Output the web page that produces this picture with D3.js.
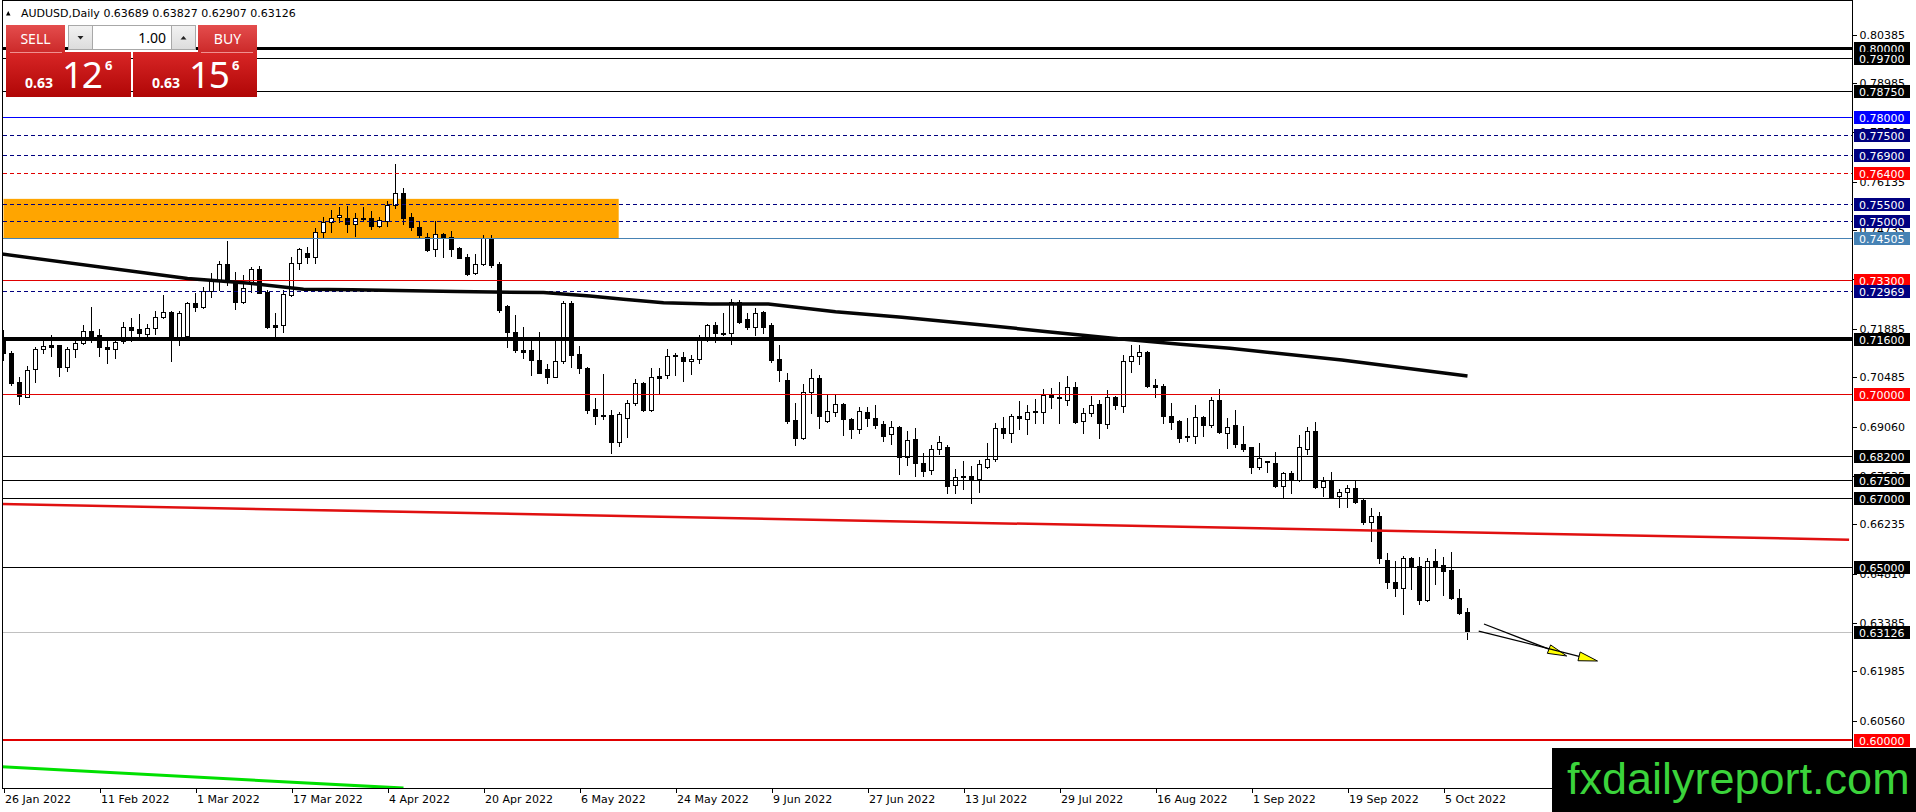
<!DOCTYPE html>
<html><head><meta charset="utf-8">
<script src="https://cdn.jsdelivr.net/npm/d3@7"></script>
<style>body{margin:0;background:#fff;overflow:hidden}svg{display:block}</style>
</head><body>
<svg id="c" width="1916" height="812"></svg>
<script>
// ---------------- DATA ----------------
const opens = [0.7166,0.7118,0.7034,0.6992,0.7071,0.7129,0.7141,0.7141,0.7077,0.7129,0.7146,0.7182,0.7170,0.7135,0.7129,0.7153,0.7195,0.7187,0.7173,0.7190,0.7222,0.7237,0.7166,0.7168,0.7264,0.7252,0.7299,0.7329,0.7376,0.7325,
0.7267,0.7320,0.7361,0.7296,0.7198,0.7198,0.7286,0.7378,0.7407,0.7397,0.7467,0.7496,0.7511,0.7508,0.7491,0.7510,0.7510,0.7486,0.7501,0.7546,0.7582,0.7511,0.7482,0.7453,0.7418,0.7462,0.7453,0.7423,0.7395,0.7349,
0.7375,0.7450,0.7376,0.7254,0.7180,0.7127,0.7127,0.7098,0.7072,0.7050,0.7096,0.7264,0.7115,0.7074,0.6957,0.6939,0.6939,0.6860,0.6930,0.6973,0.7031,0.6954,0.7052,0.7055,0.7113,0.7106,0.7094,0.7100,0.7156,0.7199,
0.7176,0.7177,0.7267,0.7216,0.7195,0.7237,0.7199,0.7100,0.7040,0.6925,0.6872,0.7005,0.7045,0.6923,0.6949,0.6971,0.6928,0.6898,0.6947,0.6931,0.6912,0.6883,0.6905,0.6817,0.6870,0.6802,0.6780,0.6840,0.6848,0.6737,
0.6759,0.6762,0.6753,0.6790,0.6811,0.6901,0.6886,0.6936,0.6927,0.6951,0.6947,0.6997,0.6991,0.6983,0.7021,0.6923,0.6946,0.6970,0.6912,0.6990,0.6965,0.7095,0.7110,0.7120,0.7026,0.7023,0.6936,0.6922,0.6879,0.6879,
0.6933,0.6909,0.6983,0.6888,0.6910,0.6855,0.6846,0.6788,0.6805,0.6800,0.6734,0.6771,0.6751,0.6840,0.6893,0.6730,0.6749,0.6705,0.6718,0.6727,0.6694,0.6631,0.6647,0.6520,0.6456,0.6438,0.6525,0.6503,0.6405,0.6518,
0.6506,0.6491,0.6410,0.63689];
const highs = [0.7185,0.7124,0.7050,0.7081,0.7137,0.7156,0.7171,0.7143,0.7135,0.7156,0.7199,0.7251,0.7187,0.7161,0.7166,0.7209,0.7219,0.7231,0.7202,0.7240,0.7286,0.7239,0.7240,0.7267,0.7291,0.7310,0.7349,0.7385,0.7441,0.7352,
0.7345,0.7368,0.7370,0.7301,0.7233,0.7301,0.7395,0.7423,0.7426,0.7479,0.7511,0.7532,0.7540,0.7543,0.7522,0.7540,0.7529,0.7513,0.7559,0.7665,0.7594,0.7522,0.7500,0.7466,0.7500,0.7464,0.7471,0.7426,0.7405,0.7404,
0.7460,0.7460,0.7382,0.7257,0.7228,0.7195,0.7156,0.7180,0.7087,0.7152,0.7269,0.7269,0.7139,0.7079,0.6988,0.7058,0.6954,0.6949,0.6983,0.7043,0.7036,0.7074,0.7074,0.7129,0.7118,0.7122,0.7113,0.7171,0.7202,0.7207,
0.7233,0.7274,0.7272,0.7233,0.7248,0.7241,0.7204,0.7142,0.7060,0.6973,0.7029,0.7072,0.7055,0.7000,0.7000,0.6975,0.6930,0.6963,0.6963,0.6968,0.6923,0.6922,0.6907,0.6893,0.6901,0.6829,0.6853,0.6879,0.6853,0.6783,
0.6806,0.6792,0.6809,0.6858,0.6915,0.6933,0.6942,0.6980,0.6968,0.6985,0.7014,0.7016,0.7034,0.7052,0.7034,0.6959,0.6994,0.6983,0.7012,0.6994,0.7113,0.7142,0.7142,0.7124,0.7042,0.7028,0.6973,0.6925,0.6932,0.6968,
0.6936,0.6992,0.7014,0.6930,0.6954,0.6908,0.6848,0.6857,0.6807,0.6833,0.6775,0.6777,0.6882,0.6906,0.6918,0.6761,0.6774,0.6725,0.6737,0.6749,0.6696,0.6671,0.6660,0.6540,0.6516,0.6533,0.6530,0.6530,0.6525,0.6551,
0.6530,0.6543,0.6436,0.63827];
const lows = [0.7098,0.7026,0.6970,0.6990,0.7036,0.7119,0.7110,0.7052,0.7067,0.7108,0.7145,0.7151,0.7110,0.7089,0.7105,0.7147,0.7153,0.7158,0.7161,0.7173,0.7219,0.7096,0.7142,0.7164,0.7241,0.7248,0.7280,0.7301,0.7315,0.7246,
0.7262,0.7296,0.7291,0.7190,0.7166,0.7180,0.7283,0.7361,0.7378,0.7378,0.7452,0.7469,0.7498,0.7469,0.7457,0.7501,0.7476,0.7482,0.7486,0.7537,0.7491,0.7474,0.7455,0.7414,0.7399,0.7395,0.7399,0.7392,0.7344,0.7346,
0.7373,0.7368,0.7238,0.7137,0.7122,0.7103,0.7055,0.7060,0.7033,0.7048,0.7090,0.7079,0.7062,0.6946,0.6913,0.6928,0.6829,0.6850,0.6877,0.6968,0.6952,0.6951,0.7004,0.7045,0.7055,0.7038,0.7058,0.7090,0.7154,0.7151,
0.7171,0.7145,0.7204,0.7188,0.7171,0.7177,0.7093,0.7038,0.6915,0.6853,0.6869,0.6946,0.6901,0.6920,0.6936,0.6881,0.6872,0.6888,0.6908,0.6901,0.6865,0.6856,0.6768,0.6795,0.6764,0.6764,0.6768,0.6827,0.6715,0.6713,
0.6725,0.6684,0.6718,0.6785,0.6807,0.6874,0.6862,0.6898,0.6883,0.6915,0.6915,0.6959,0.6915,0.6968,0.6915,0.6888,0.6936,0.6872,0.6901,0.6956,0.6949,0.7064,0.7087,0.7019,0.6992,0.6915,0.6899,0.6862,0.6865,0.6859,
0.6879,0.6904,0.6888,0.6843,0.6848,0.6836,0.6771,0.6782,0.6775,0.6730,0.6701,0.6715,0.6749,0.6828,0.6728,0.6705,0.6698,0.6672,0.6674,0.6686,0.6624,0.6576,0.6513,0.6440,0.6417,0.6364,0.6436,0.6394,0.6403,0.6451,
0.6419,0.6407,0.6364,0.62907];
const closes = [0.7118,0.7031,0.6994,0.7069,0.7130,0.7139,0.7137,0.7077,0.7129,0.7148,0.7181,0.7156,0.7137,0.7129,0.7151,0.7195,0.7185,0.7177,0.7190,0.7222,0.7237,0.7164,0.7233,0.7262,0.7252,0.7299,0.7327,0.7376,0.7332,0.7267,
0.7305,0.7361,0.7293,0.7193,0.7193,0.7289,0.7378,0.7419,0.7397,0.7467,0.7498,0.7510,0.7517,0.7491,0.7510,0.7507,0.7486,0.7503,0.7546,0.7582,0.7510,0.7482,0.7460,0.7416,0.7462,0.7450,0.7419,0.7394,0.7347,0.7375,
0.7452,0.7373,0.7243,0.7180,0.7127,0.7122,0.7098,0.7062,0.7050,0.7096,0.7262,0.7113,0.7076,0.6954,0.6937,0.6936,0.6860,0.6942,0.6973,0.7031,0.6954,0.7050,0.7045,0.7110,0.7110,0.7094,0.7100,0.7158,0.7199,0.7175,
0.7173,0.7267,0.7209,0.7195,0.7235,0.7195,0.7098,0.7069,0.6923,0.6872,0.7005,0.7045,0.6937,0.6951,0.6970,0.6927,0.6898,0.6951,0.6930,0.6910,0.6879,0.6905,0.6817,0.6867,0.6802,0.6778,0.6840,0.6860,0.6735,0.6761,
0.6762,0.6751,0.6798,0.6811,0.6901,0.6888,0.6936,0.6930,0.6949,0.6947,0.6997,0.6990,0.6988,0.7021,0.6920,0.6946,0.6969,0.6915,0.6990,0.6968,0.7095,0.7110,0.7122,0.7024,0.7021,0.6936,0.6918,0.6872,0.6875,0.6933,
0.6909,0.6983,0.6891,0.6906,0.6855,0.6841,0.6788,0.6814,0.6803,0.6734,0.6771,0.6751,0.6846,0.6893,0.6730,0.6749,0.6701,0.6716,0.6727,0.6689,0.6631,0.6647,0.6527,0.6458,0.6438,0.6525,0.6499,0.6405,0.6518,0.6504,
0.6489,0.6410,0.6368,0.63126];

const dateLabels = ["26 Jan 2022","11 Feb 2022","1 Mar 2022","17 Mar 2022","4 Apr 2022","20 Apr 2022","6 May 2022","24 May 2022","9 Jun 2022","27 Jun 2022","13 Jul 2022","29 Jul 2022","16 Aug 2022","1 Sep 2022","19 Sep 2022","5 Oct 2022"];
const dateLabelStep = 12;

const priceTicks = [0.80385,0.78985,0.77560,0.76135,0.74735,0.73310,0.71885,0.70485,0.69060,0.67635,0.66235,0.64810,0.63385,0.61985,0.60560];

const levelPrices = [0.8000,0.7970,0.7875,0.7800,0.7750,0.7690,0.7640,0.7550,0.7500,0.74505,0.7330,0.72969,0.7160,0.7000,0.6820,0.6750,0.6700,0.6500,0.63126,0.6000];
const levelTypes  = ["blackBold","black","black","blue","navyDash","navyDash","redDash","navyDash","navyDash","steel","red","navyDash","blackHeavy","red","black","black","black","black","bid","redBold"];

// moving average: bar index, value
const maIndex = [-0.4,23,30.8,37.5,43.6,56.7,67.5,73.3,77.5,82.5,88.3,95.6,104,112.3,122.7,130.5,138.7,147.1,153.3,167.3,183];
const maValue = [0.7405,0.7334,0.7320,0.7303,0.7301,0.7296,0.7293,0.7283,0.7274,0.7264,0.7260,0.7260,0.7238,0.7222,0.7199,0.7180,0.7161,0.7144,0.7132,0.7098,0.7052];

// trend lines: [startIndex, startPrice, endIndex, endPrice]
const redTrend = [-0.4,0.6682,230.7,0.6579];
const greenTrend = [-0.4,0.5923,50,0.5861];
// supply zone
const zoneBars = [0,76.9];
const zonePrices = [0.7564,0.74505];
// arrows: [i0,p0,i1,p1]
const arrows = [[185.06,0.63353,195.4,0.62428],[184.4,0.63150,199.25,0.62283]];

const symbolTitle = "AUDUSD,Daily";
const lastOHLC = [0.63689,0.63827,0.62907,0.63126];
const bidQuote = ["0.63","12","6"], askQuote = ["0.63","15","6"], lotSize = "1.00";

// ---------------- DRAW ----------------
const W=1916,H=812, plotL=2.5, plotR=1852.5, plotT=0.5, plotB=788.5;
const svg = d3.select("#c");
const x = d3.scaleLinear().domain([0,183]).range([3.5,3.5+8*183]);
const y = d3.scaleLinear().domain([0.6,0.8]).range([740,48]);
const F = "DejaVu Sans";

const defs = svg.append("defs");
defs.append("clipPath").attr("id","plot").append("rect").attr("x",plotL).attr("y",plotT).attr("width",plotR-plotL).attr("height",plotB-plotT);
function grad(id,c1,c2){const g=defs.append("linearGradient").attr("id",id).attr("x1",0).attr("y1",0).attr("x2",0).attr("y2",1);
 g.append("stop").attr("offset","0%").attr("stop-color",c1);g.append("stop").attr("offset","100%").attr("stop-color",c2);}
grad("btn","#e44d4d","#cc2a2a");
grad("big","#d82626","#b00606");
grad("gry","#f2f2f2","#dcdcdc");

svg.append("rect").attr("width",W).attr("height",H).attr("fill","#fff");
const plot = svg.append("g").attr("clip-path","url(#plot)");

// zone
plot.append("rect").attr("x",x(zoneBars[0])).attr("width",x(zoneBars[1])-x(zoneBars[0]))
 .attr("y",y(zonePrices[0])).attr("height",y(zonePrices[1])-y(zonePrices[0])).attr("fill","#ffa500");

// candles
const bars = d3.range(opens.length).map(i=>({i,o:opens[i],h:highs[i],l:lows[i],c:closes[i]}));
const cg = plot.append("g").attr("shape-rendering","crispEdges");
cg.selectAll("line.w").data(bars).join("line").attr("class","w")
 .attr("x1",d=>x(d.i)).attr("x2",d=>x(d.i))
 .attr("y1",d=>Math.round(y(d.h))).attr("y2",d=>Math.round(y(d.l))+1)
 .attr("stroke","#000").attr("stroke-width",1);
bars.forEach(d=>{
  const yt=Math.round(y(Math.max(d.o,d.c)))+0.5, yb=Math.round(y(Math.min(d.o,d.c)))+0.5;
  const bull=d.c>d.o;
  if(yb-yt<1){
    cg.append("line").attr("x1",x(d.i)-2.5).attr("x2",x(d.i)+2.5).attr("y1",yt).attr("y2",yt).attr("stroke","#000");
  } else {
    cg.append("rect").attr("x",x(d.i)-2).attr("width",4).attr("y",yt).attr("height",yb-yt)
      .attr("fill",bull?"#fff":"#000").attr("stroke","#000").attr("stroke-width",1);
  }
});

// horizontal levels
const lvStyle = {
 blackBold:{s:"#000",w:3,box:"#000"}, black:{s:"#000",w:1,box:"#000"}, blackHeavy:{s:"#000",w:4,box:"#000"},
 blue:{s:"#0000ff",w:1,box:"#0000ff"}, navyDash:{s:"#000080",w:1,d:"4,3",box:"#000080"},
 redDash:{s:"#e00000",w:1,d:"4,3",box:"#ff0000"}, steel:{s:"#4682b4",w:1,box:"#4682b4"},
 red:{s:"#e00000",w:1,box:"#ff0000"}, redBold:{s:"#e00000",w:2,box:"#ff0000"}, bid:{s:"#c0c0c0",w:1,box:"#000"}
};
const levels = levelPrices.map((p,k)=>({p,st:lvStyle[levelTypes[k]]}));
plot.append("g").selectAll("line").data(levels).join("line")
 .attr("x1",plotL).attr("x2",plotR)
 .attr("y1",d=>Math.round(y(d.p))+(d.st.w%2?0.5:0)).attr("y2",d=>Math.round(y(d.p))+(d.st.w%2?0.5:0))
 .attr("stroke",d=>d.st.s).attr("stroke-width",d=>d.st.w).attr("stroke-dasharray",d=>d.st.d||null)
 .attr("shape-rendering","crispEdges");

// MA
const ma = maIndex.map((v,k)=>[v,maValue[k]]);
plot.append("path").datum(ma).attr("d",d3.line().x(d=>x(d[0])).y(d=>y(d[1])))
 .attr("fill","none").attr("stroke","#050505").attr("stroke-width",3.5);

// trend lines
function trend(t,color,w){plot.append("line").attr("x1",x(t[0])).attr("y1",y(t[1])).attr("x2",x(t[2])).attr("y2",y(t[3]))
 .attr("stroke",color).attr("stroke-width",w);}
trend(redTrend,"#e01010",2.5);
trend(greenTrend,"#00e000",3);

// arrows
arrows.forEach(a=>{
  const x0=x(a[0]),y0=y(a[1]),x1=x(a[2]),y1=y(a[3]);
  const ang=Math.atan2(y1-y0,x1-x0), L=19, hw=4.5;
  const bx=x1-L*Math.cos(ang), by=y1-L*Math.sin(ang);
  plot.append("line").attr("x1",x0).attr("y1",y0).attr("x2",bx).attr("y2",by).attr("stroke","#000").attr("stroke-width",1.3);
  const px=-Math.sin(ang)*hw, py=Math.cos(ang)*hw;
  plot.append("path").attr("d",`M${x1},${y1}L${bx+px},${by+py}L${bx-px},${by-py}Z`)
   .attr("fill","#ffff00").attr("stroke","#000").attr("stroke-width",1);
});

// frame
svg.append("rect").attr("x",plotL).attr("y",plotT).attr("width",plotR-plotL).attr("height",plotB-plotT)
 .attr("fill","none").attr("stroke","#000").attr("stroke-width",1).attr("shape-rendering","crispEdges");

// price axis
const gy = svg.append("g").attr("transform",`translate(${plotR},0)`)
 .call(d3.axisRight(y).tickValues(priceTicks).tickSize(4).tickPadding(3).tickFormat(d3.format(".5f")));
gy.select(".domain").remove();
gy.selectAll("line").attr("stroke","#000").attr("shape-rendering","crispEdges");
gy.selectAll("text").attr("font-family",F).attr("font-size",11).attr("fill","#000");

// level labels
const lb = svg.append("g");
levels.forEach(d=>{
  const yy=Math.round(y(d.p));
  lb.append("rect").attr("x",1854).attr("y",yy-6).attr("width",56).attr("height",13).attr("fill",d.st.box);
  lb.append("text").attr("x",1859).attr("y",yy+4.5).attr("font-family",F).attr("font-size",11).attr("fill","#fff").text(d3.format(".5f")(d.p));
});

// time axis
const tickIdx = dateLabels.map((_,k)=>k*dateLabelStep);
const gx = svg.append("g").attr("transform",`translate(0,${plotB})`)
 .call(d3.axisBottom(x).tickValues(tickIdx).tickSize(4).tickPadding(3).tickFormat((d,k)=>dateLabels[k]));
gx.select(".domain").remove();
gx.selectAll("line").attr("stroke","#000").attr("shape-rendering","crispEdges");
gx.selectAll("text").attr("font-family",F).attr("font-size",11).attr("fill","#000").attr("text-anchor","start").attr("x",1);

// header
svg.append("path").attr("d","M6,15.5L10.5,15.5L8.25,11Z").attr("fill","#000");
svg.append("text").attr("x",21).attr("y",17).attr("font-family",F).attr("font-size",11).attr("fill","#000")
 .text(symbolTitle+"  "+lastOHLC.map(d3.format(".5f")).join(" "));

// one-click trading panel
const P = svg.append("g");
const NF="Noto Sans";
P.append("rect").attr("x",6).attr("y",25).attr("width",59).attr("height",27).attr("fill","url(#btn)");
P.append("rect").attr("x",198).attr("y",25).attr("width",59).attr("height",27).attr("fill","url(#btn)");
P.append("text").attr("x",35.5).attr("y",44).attr("text-anchor","middle").attr("font-family",NF).attr("font-size",14).attr("fill","#fff").text("SELL");
P.append("text").attr("x",227.5).attr("y",44).attr("text-anchor","middle").attr("font-family",NF).attr("font-size",14).attr("fill","#fff").text("BUY");
P.append("rect").attr("x",68.5).attr("y",25.5).attr("width",24).attr("height",24).attr("fill","url(#gry)").attr("stroke","#a8a8a8");
P.append("rect").attr("x",92.5).attr("y",25.5).attr("width",79).attr("height",24).attr("fill","#fff").attr("stroke","#a8a8a8");
P.append("rect").attr("x",171.5).attr("y",25.5).attr("width",24).attr("height",24).attr("fill","url(#gry)").attr("stroke","#a8a8a8");
P.append("path").attr("d","M77.5,36L83.5,36L80.5,39.5Z").attr("fill","#222");
P.append("path").attr("d","M180.5,39.5L186.5,39.5L183.5,36Z").attr("fill","#222");
P.append("text").attr("x",166).attr("y",43).attr("text-anchor","end").attr("font-family",NF).attr("font-size",14).attr("fill","#000").text(lotSize);
P.append("rect").attr("x",6).attr("y",52).attr("width",125).attr("height",45).attr("fill","url(#big)");
P.append("rect").attr("x",133).attr("y",52).attr("width",124).attr("height",45).attr("fill","url(#big)");
P.append("line").attr("x1",10).attr("x2",62).attr("y1",52.5).attr("y2",52.5).attr("stroke","#f09090");
P.append("line").attr("x1",201).attr("x2",253).attr("y1",52.5).attr("y2",52.5).attr("stroke","#f09090");
function quote(q,x0){
  P.append("text").attr("x",x0).attr("y",88).attr("font-family",NF).attr("font-weight","bold").attr("font-size",14).attr("fill","#fff").text(q[0]);
  P.append("text").attr("x",x0+37).attr("y",88).attr("font-family",NF).attr("font-size",37).attr("letter-spacing",-1.5).attr("fill","#fff").text(q[1]);
  P.append("text").attr("x",x0+80).attr("y",70).attr("font-family",NF).attr("font-weight","bold").attr("font-size",13).attr("fill","#fff").text(q[2]);
}
quote(bidQuote,25);
quote(askQuote,152);

// watermark
svg.append("rect").attr("x",1552).attr("y",748).attr("width",364).attr("height",64).attr("fill","#000");
svg.append("text").attr("x",1567).attr("y",794).attr("font-family","Liberation Sans").attr("font-size",45)
 .attr("fill","#3bd33b").text("fxdailyreport.com");
</script>
</body></html>
